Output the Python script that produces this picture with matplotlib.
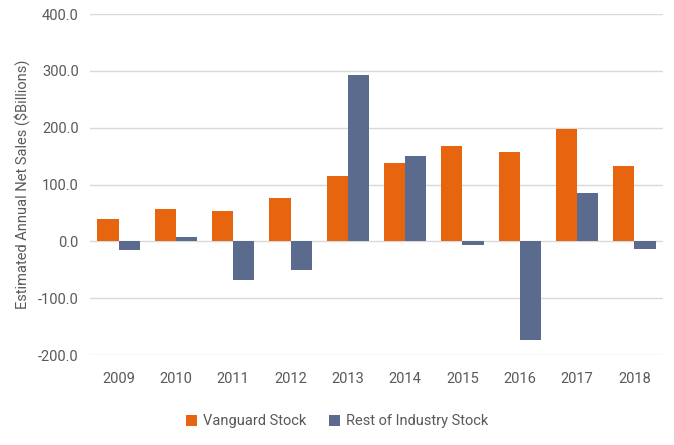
import numpy as np
import matplotlib
matplotlib.use("Agg")
from matplotlib import pyplot as plt

years = ["2009", "2010", "2011", "2012", "2013", "2014", "2015", "2016", "2017", "2018"]
vanguard = [40, 57, 53, 77, 115, 137, 167, 157, 198, 133]
rest = [-15, 8, -68, -50, 293, 151, -7, -173, 85, -13]
y_ticks = [-200, -100, 0, 100, 200, 300, 400]

plt.rcParams['font.family'] = ['Roboto', 'DejaVu Sans']

fig = plt.figure(figsize=(6.74, 4.45), dpi=100)
ax = fig.add_axes([0.1335, 0.2022, 0.8502, 0.7663])

x = np.arange(len(years))
w = 0.37
ax.bar(x - w / 2, vanguard, w, color="#E8650F", label="Vanguard Stock", zorder=3)
ax.bar(x + w / 2, rest, w, color="#5B6B8E", label="Rest of Industry Stock", zorder=3)

ax.set_xlim(-0.5, len(years) - 0.5)
ax.set_ylim(-200, 400)
ax.set_yticks(y_ticks)
ax.set_yticklabels([f"{v:.1f}" for v in y_ticks])
ax.set_xticks(x)
ax.set_xticklabels(years)
ax.grid(axis="y", color="#D9D9D9", linewidth=1, zorder=0)
for s in ax.spines.values():
    s.set_visible(False)
ax.tick_params(length=0, colors="#595959", labelsize=10.5)
ax.tick_params(axis="x", pad=12)
ax.tick_params(axis="y", pad=8)
ax.set_ylabel("Estimated Annual Net Sales ($Billions)", color="#595959", fontsize=10.5, labelpad=6)

fig.legend(loc="center", bbox_to_anchor=(0.5, 0.053), ncol=2, frameon=False,
           fontsize=10.5, labelcolor="#595959", handlelength=0.75, handleheight=0.75,
           handletextpad=0.4, columnspacing=1.6)

fig.savefig("out.png", dpi=100)
